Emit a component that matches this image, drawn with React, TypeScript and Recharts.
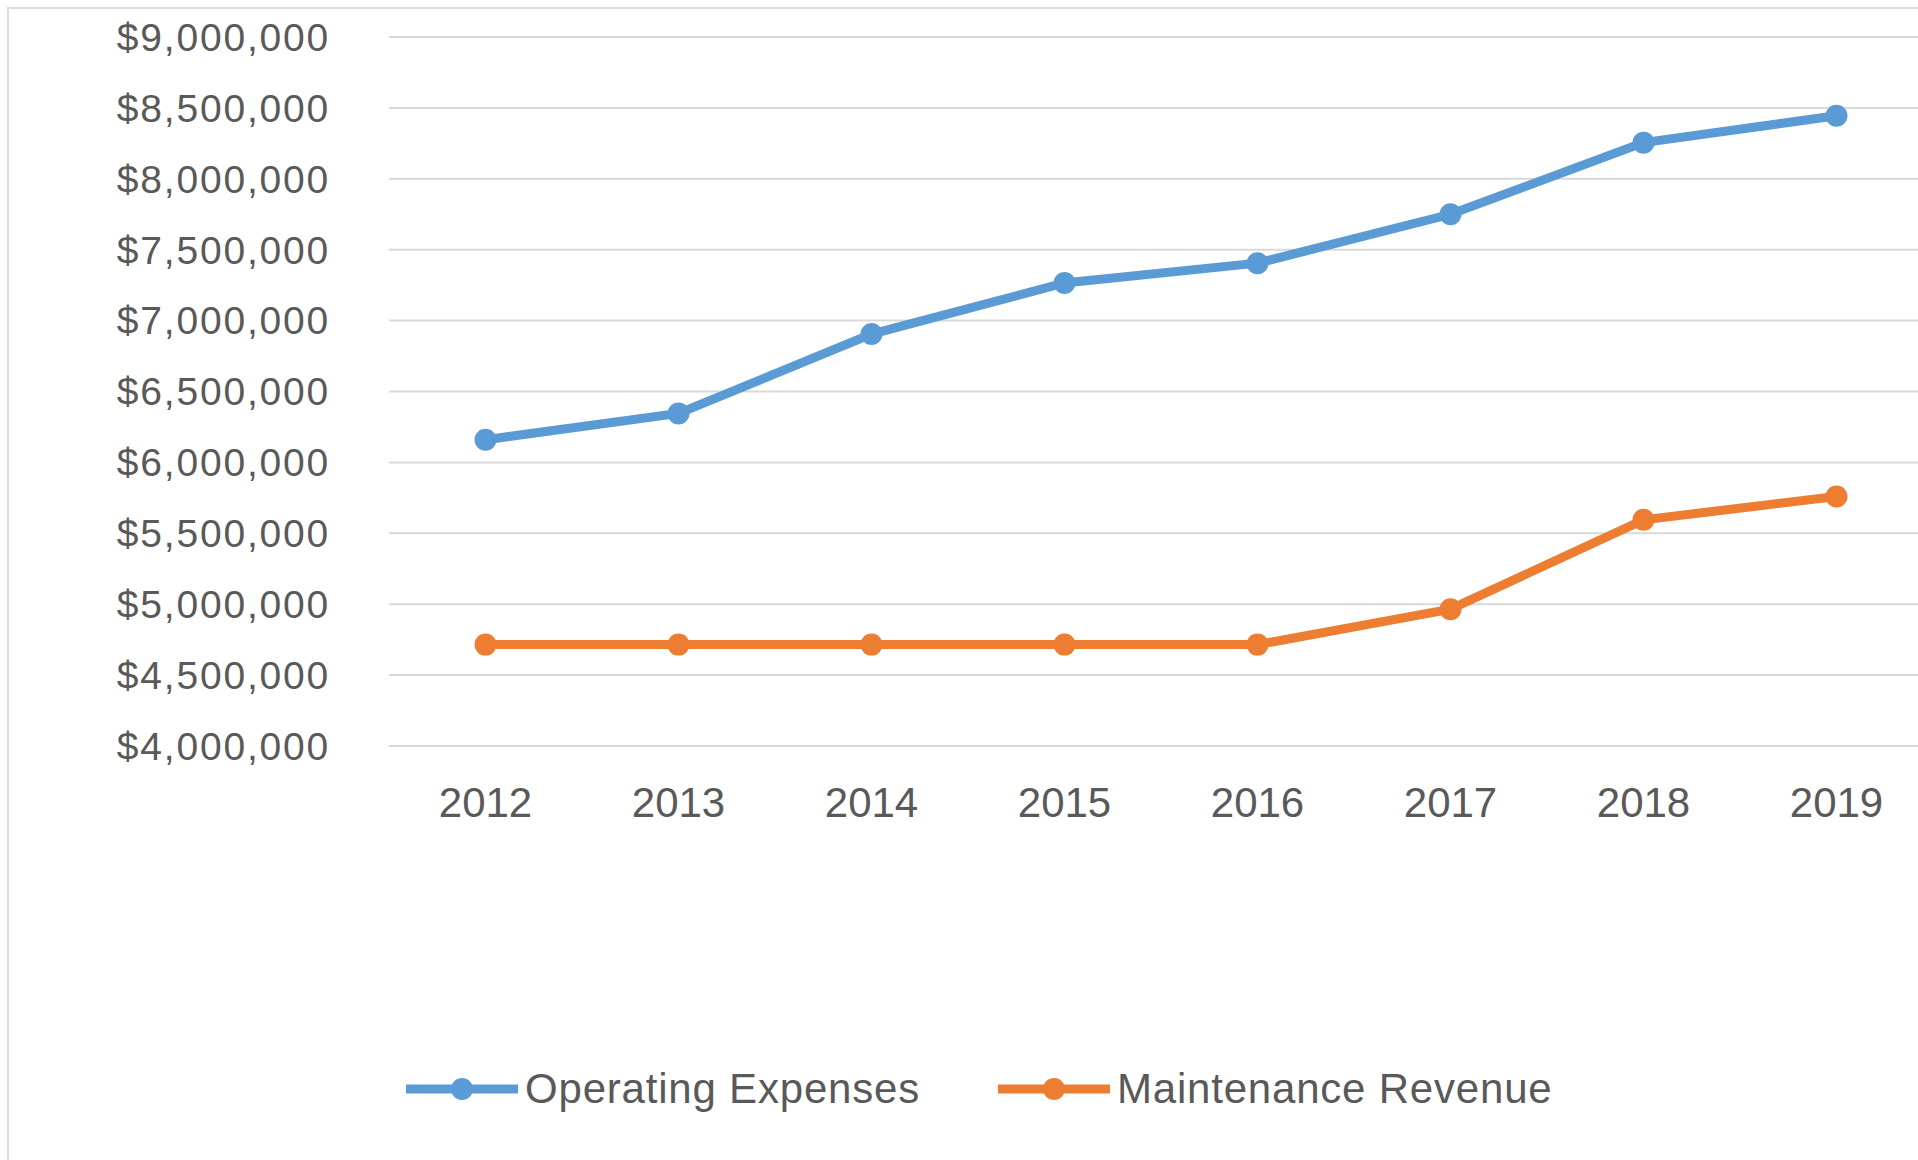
import { CartesianGrid, Legend, Line, LineChart, XAxis, YAxis } from "recharts";

const YEARS = ["2012", "2013", "2014", "2015", "2016", "2017", "2018", "2019"];
const OPERATING_EXPENSES = [6160000, 6345000, 6905000, 7265000, 7405000, 7750000, 8255000, 8445000];
const MAINTENANCE_REVENUE = [4715000, 4715000, 4715000, 4715000, 4715000, 4965000, 5595000, 5760000];
const Y_TICKS = [4000000, 4500000, 5000000, 5500000, 6000000, 6500000, 7000000, 7500000, 8000000, 8500000, 9000000];
const SERIES_ORDER = ["opex", "revenue"];

const BLUE = "#5b9bd5";
const ORANGE = "#ed7d31";
const GRID = "#d9d9d9";
const TEXT = "#595959";
const FONT = "'Liberation Sans', Arial, sans-serif";

const data = YEARS.map((year, i) => ({
  year,
  opex: OPERATING_EXPENSES[i],
  revenue: MAINTENANCE_REVENUE[i],
}));

const money = (v: number) => "$" + v.toLocaleString("en-US");

function LegendContent({ payload }: any) {
  const items = [...(payload ?? [])].sort(
    (a: any, b: any) => SERIES_ORDER.indexOf(a.dataKey) - SERIES_ORDER.indexOf(b.dataKey)
  );
  return (
    <div style={{ height: 100, display: "flex", alignItems: "center", paddingLeft: 406, gap: 78, fontFamily: FONT }}>
      {items.map((p: any) => (
        <div key={p.value} style={{ display: "flex", alignItems: "center", gap: 7 }}>
          <svg width={112} height={26}>
            <line x1={0} y1={13} x2={112} y2={13} stroke={p.color} strokeWidth={9} />
            <circle cx={56} cy={13} r={11} fill={p.color} />
          </svg>
          <span style={{ fontSize: 42, color: TEXT, lineHeight: 1, letterSpacing: 0.8 }}>{p.value}</span>
        </div>
      ))}
    </div>
  );
}

export default function App() {
  return (
    <div style={{ position: "absolute", left: 0, top: 0, width: 1918, height: 1160, overflow: "hidden", background: "#fff" }}>
      <div style={{ position: "absolute", left: 7, top: 7, width: 2000, height: 1200, border: "2px solid #dcdcdc" }} />
      <div style={{ position: "absolute", left: 0, top: 0 }}>
        <LineChart width={1933} height={1160} data={data} margin={{ top: 37, right: 0, bottom: 21, left: 0 }}>
          <CartesianGrid vertical={false} stroke={GRID} strokeWidth={2} />
          <XAxis
            dataKey="year"
            padding={{ left: 96.5, right: 96.5 }}
            axisLine={false}
            tickLine={false}
            tickSize={0}
            tickMargin={41}
            height={293}
            tick={{ fill: TEXT, fontSize: 42, fontFamily: FONT }}
          />
          <YAxis
            domain={[4000000, 9000000]}
            ticks={Y_TICKS}
            tickFormatter={money}
            axisLine={false}
            tickLine={false}
            tickSize={0}
            tickMargin={59}
            width={389}
            tick={{ fill: TEXT, fontSize: 39, fontFamily: FONT, letterSpacing: 1.8 }}
          />
          <Legend verticalAlign="bottom" content={<LegendContent />} />
          <Line
            dataKey="opex"
            name="Operating Expenses"
            stroke={BLUE}
            strokeWidth={9}
            dot={{ r: 11, fill: BLUE, stroke: BLUE, strokeWidth: 0 }}
            activeDot={false}
            isAnimationActive={false}
          />
          <Line
            dataKey="revenue"
            name="Maintenance Revenue"
            stroke={ORANGE}
            strokeWidth={9}
            dot={{ r: 11, fill: ORANGE, stroke: ORANGE, strokeWidth: 0 }}
            activeDot={false}
            isAnimationActive={false}
          />
        </LineChart>
      </div>
    </div>
  );
}
